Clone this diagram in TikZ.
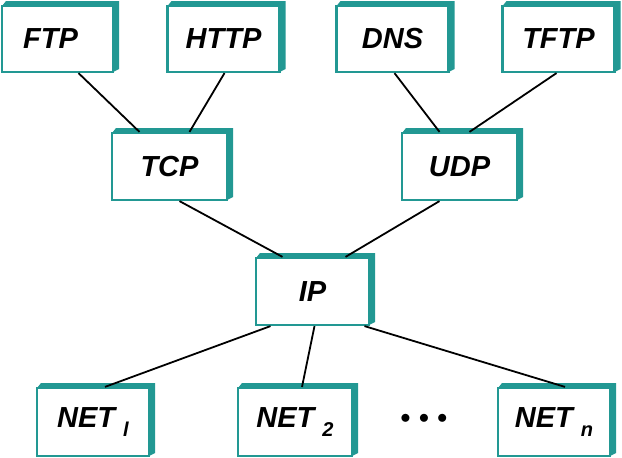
\documentclass[tikz,border=0pt]{standalone}
\usepackage{fontspec}
\setmainfont{Liberation Sans}
\definecolor{tealc}{RGB}{34,152,147}
\tikzset{
  pbox/.style={draw=tealc, line width=2.2pt, fill=white, inner sep=0pt,
    font=\fontsize{29}{32}\selectfont\bfseries\itshape, text=black},
  link/.style={draw=black, line width=1.8pt},
}
\newcommand\tbox[6]{% name, cx, cy, w, h, text
  \fill[tealc] (#2-#4/2,#3-#5/2) -- (#2-#4/2+4,#3-#5/2-5) -- (#2+#4/2+6,#3-#5/2-5)
     -- (#2+#4/2+6,#3+#5/2-3) -- (#2+#4/2,#3+#5/2) -- cycle;
  \node[pbox, minimum width=#4pt, minimum height=#5pt] (#1) at (#2,#3) {#6};
}
\newcommand\netsub[1]{\raisebox{-9pt}{\fontsize{20}{22}\selectfont #1}}
\begin{document}
\begin{tikzpicture}[x=1pt,y=-1pt]
\useasboundingbox (0,0) rectangle (622,458);
\tbox{ftp}{57.5}{39}{111}{66}{FTP\hspace*{14pt}}
\tbox{http}{223.5}{39}{112}{66}{HTTP}
\tbox{dns}{392.5}{39}{112}{66}{DNS}
\tbox{tftp}{558.5}{39}{112}{66}{TFTP}
\tbox{tcp}{169.5}{166.5}{115}{67}{TCP}
\tbox{udp}{459.5}{166.5}{115}{67}{UDP}
\tbox{ip}{312.5}{291.5}{113}{67}{IP}
\tbox{net1}{93}{422}{112}{68}{NET \netsub{l}}
\tbox{net2}{295}{422}{114}{68}{NET \netsub{2}}
\tbox{netn}{554}{422}{112}{68}{NET \netsub{n}}
\node[font=\fontsize{22}{24}\selectfont\bfseries] (dots) at (424,419) {$\bullet\,\bullet\,\bullet$};
\begin{scope}[link]
\draw ([xshift=21pt]ftp.south) -- ([xshift=-30pt]tcp.north);
\draw ([xshift=1pt]http.south) -- ([xshift=20pt]tcp.north);
\draw ([xshift=2pt]dns.south) -- ([xshift=-20pt]udp.north);
\draw ([xshift=-2pt]tftp.south) -- ([xshift=10pt]udp.north);
\draw ([xshift=10pt]tcp.south) -- ([xshift=-30pt]ip.north);
\draw ([xshift=-20pt]udp.south) -- ([xshift=33pt]ip.north);
\draw ([xshift=-42pt]ip.south) -- ([xshift=12pt]net1.north);
\draw ([xshift=2pt]ip.south) -- ([xshift=7pt]net2.north);
\draw ([xshift=52pt]ip.south) -- ([xshift=11pt]netn.north);
\end{scope}
\end{tikzpicture}
\end{document}
